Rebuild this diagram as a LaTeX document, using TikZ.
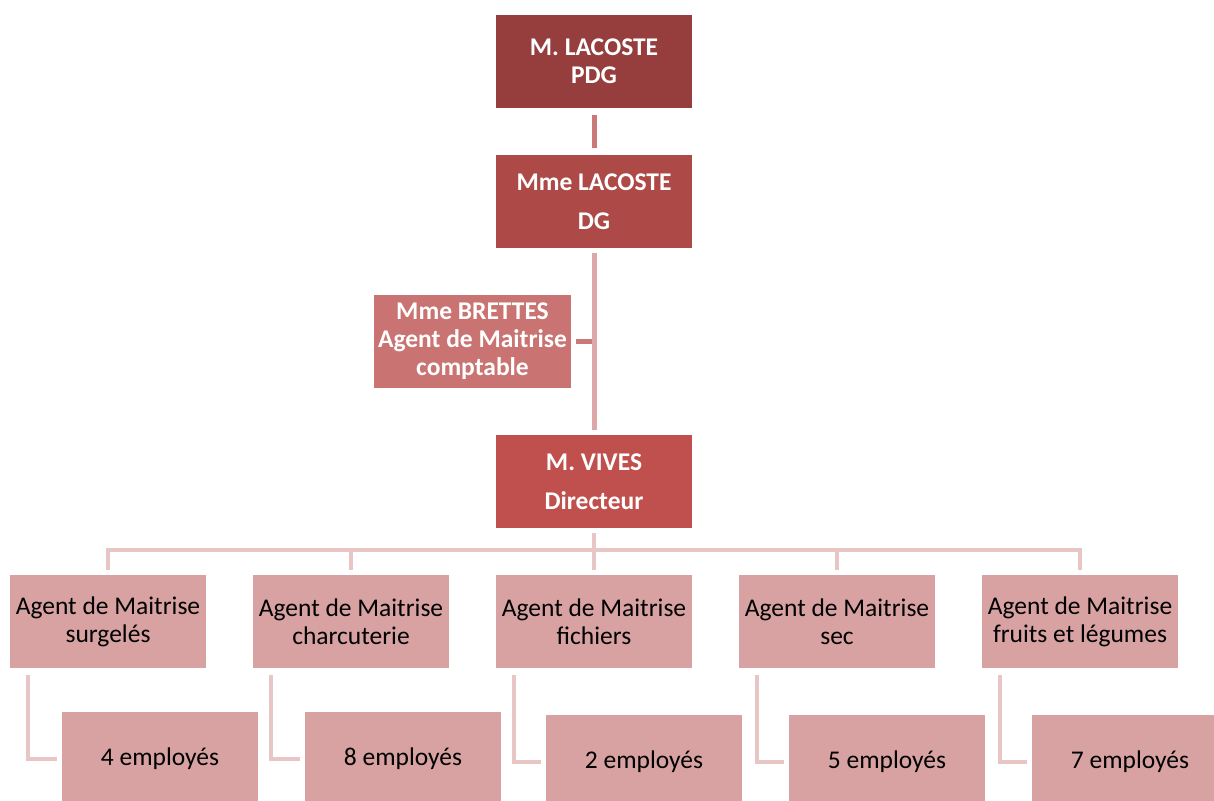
\documentclass[tikz,border=0pt]{standalone}
\usepackage{fontspec}
\setmainfont{Carlito}
\definecolor{cPDG}{HTML}{963D3E}
\definecolor{cDG}{HTML}{AD4A47}
\definecolor{cBR}{HTML}{C97472}
\definecolor{cVI}{HTML}{C0504D}
\definecolor{cAG}{HTML}{D8A2A2}
\definecolor{lnA}{HTML}{CB7878}
\definecolor{lnB}{HTML}{DFA8A8}
\definecolor{lnC}{HTML}{E8C6C6}
\tikzset{
  boxbase/.style={minimum width=196pt, minimum height=93pt, inner sep=0pt, align=center},
  topbox/.style={boxbase, text=white, font=\fontsize{25.5}{28}\selectfont\bfseries},
  agbox/.style={boxbase, fill=cAG, text=black, font=\fontsize{25.5}{28}\selectfont},
  conA/.style={draw=lnA, line width=5pt},
  conB/.style={draw=lnB, line width=5pt},
  conC/.style={draw=lnC, line width=4pt},
}
\begin{document}
\begin{tikzpicture}[x=1pt,y=1pt]
\useasboundingbox (0,0) rectangle (1214,-800);
\clip (0,0) rectangle (1214,-800);
\node[topbox, fill=cPDG] (pdg) at (594,-61.5) {M. LACOSTE\\PDG};
\node[topbox, fill=cDG, font=\fontsize{25.5}{39}\selectfont\bfseries] (dg) at (594,-201.5) {Mme LACOSTE\\DG};
\node[topbox, fill=cBR, minimum width=197pt] (br) at (472.5,-341.5) {Mme BRETTES\\Agent de Maitrise\\comptable};
\node[topbox, fill=cVI, font=\fontsize{25.5}{39}\selectfont\bfseries] (vi) at (594,-481.5) {M. VIVES\\Directeur};
\node[agbox] (a1) at (108,-621.5) {Agent de Maitrise\\surgelés};
\node[agbox] (a2) at (351,-621.5) {Agent de Maitrise\\charcuterie};
\node[agbox] (a3) at (594,-621.5) {Agent de Maitrise\\fichiers};
\node[agbox] (a4) at (837,-621.5) {Agent de Maitrise\\sec};
\node[agbox] (a5) at (1080,-621.5) {Agent de Maitrise\\fruits et légumes};
\node[agbox] (e1) at (160,-758.5) {4 employés};
\node[agbox] (e2) at (403,-758.5) {8 employés};
\node[agbox] (e3) at (644,-761.5) {2 employés};
\node[agbox] (e4) at (887,-761.5) {5 employés};
\node[agbox] (e5) at (1130,-761.5) {7 employés};
% connectors
\draw[conA, shorten <=7pt, shorten >=7pt] (pdg.south) -- (dg.north);
\draw[conB, shorten <=5pt, shorten >=5pt] (dg.south) -- (vi.north);
\coordinate (brj) at (dg.south |- br.east);
\draw[conA, shorten <=5pt] (br.east) -- ([xshift=-2.5pt]brj);
\coordinate (bus) at (594,-550);
\foreach \a in {a1,a2,a3,a4,a5}{
  \draw[conC, shorten <=5pt, shorten >=5pt] (vi.south) -- (bus) -| (\a.north);
}
\foreach \a/\e in {a1/e1,a2/e2,a3/e3,a4/e4,a5/e5}{
  \draw[conC, shorten <=7pt, shorten >=5pt] ([xshift=18pt]\a.south west) |- (\e.west);
}
\end{tikzpicture}
\end{document}
